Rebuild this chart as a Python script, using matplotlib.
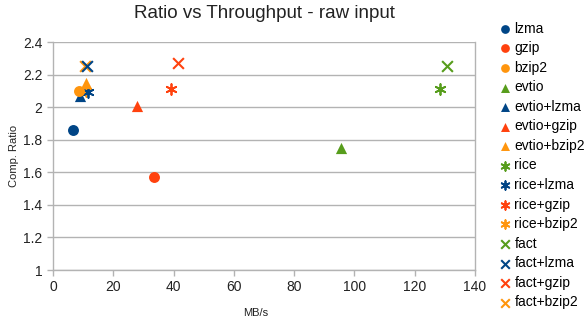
import matplotlib
matplotlib.use("Agg")
import matplotlib.pyplot as plt

plt.rcParams['font.family'] = ['Liberation Sans', 'DejaVu Sans']

names = ["lzma", "gzip", "bzip2", "evtio", "evtio+lzma", "evtio+gzip", "evtio+bzip2",
         "rice", "rice+lzma", "rice+gzip", "rice+bzip2",
         "fact", "fact+lzma", "fact+gzip", "fact+bzip2"]
mbps = [6.6, 33.6, 8.6, 95.6, 8.8, 28.0, 11.0, 128.4, 11.5, 39.3, 11.0, 130.8, 11.4, 41.4, 10.6]
ratio = [1.86, 1.57, 2.10, 1.75, 2.07, 2.01, 2.15, 2.11, 2.09, 2.11, 2.10, 2.25, 2.25, 2.27, 2.25]

blue, red, orange, green = "#004586", "#ff420e", "#ff950e", "#579d1c"
colors = [blue, red, orange, green, blue, red, orange, green, blue, red, orange, green, blue, red, orange]
markers = ["o", "o", "o", "^", "^", "^", "^", "*a", "*a", "*a", "*a", "x", "x", "x", "x"]

fig = plt.figure(figsize=(5.85, 3.25), dpi=100)
ax = fig.add_axes([53/585, 1 - 270/325, (475-53)/585, (270-42)/325])

n = len(names)
handles = []
for i in range(n):
    m = markers[i]
    z = 3 + (n - i) * 0.01
    if m == "o":
        h = ax.scatter(mbps[i], ratio[i], s=62, marker="o", color=colors[i], zorder=z, label=names[i], linewidths=0)
    elif m == "^":
        h = ax.scatter(mbps[i], ratio[i], s=65, marker="^", color=colors[i], zorder=z, label=names[i], linewidths=0)
    elif m == "*a":
        h = ax.scatter(mbps[i], ratio[i], s=60, marker=(6, 2, 0), color=colors[i], zorder=z, label=names[i], linewidths=1.3)
    else:
        h = ax.scatter(mbps[i], ratio[i], s=60, marker="x", color=colors[i], zorder=z, label=names[i], linewidths=1.5)
    handles.append(h)

ax.set_xlim(0, 140)
ax.set_ylim(1, 2.4)
ax.set_xticks(range(0, 141, 20))
ax.set_yticks([1, 1.2, 1.4, 1.6, 1.8, 2, 2.2, 2.4])
ax.set_yticklabels(["1", "1.2", "1.4", "1.6", "1.8", "2", "2.2", "2.4"])
ax.yaxis.grid(True, color="#b3b3b3", linewidth=1)
ax.set_axisbelow(True)
ax.spines["top"].set_visible(False)
for side in ["left", "bottom", "right"]:
    ax.spines[side].set_color("#b3b3b3")
    ax.spines[side].set_linewidth(1)
ax.tick_params(axis="both", colors="#b3b3b3", labelcolor="#222222", labelsize=10, length=4, width=1)
ax.set_xlabel("MB/s", fontsize=8, color="#222222")
ax.set_ylabel("Comp. Ratio", fontsize=8, color="#222222")
ax.xaxis.set_label_coords((256 - 53) / (475 - 53), -(313 - 270) / (270 - 42))
ax.yaxis.set_label_coords(-(53 - 14) / (475 - 53), 0.5)
ax.xaxis.label.set_va("center")
ax.yaxis.label.set_va("center")

fig.text(264/585, 1 - 14/325, "Ratio vs Throughput - raw input", ha="center", va="center", fontsize=13.5, color="#222222")

leg = fig.legend(handles=handles, labels=names, loc="upper left", bbox_to_anchor=(495/585, 1 - 16/325),
                 frameon=False, fontsize=10, handlelength=0.7, handletextpad=0.3, labelspacing=0.4,
                 borderaxespad=0, markerscale=0.8)

fig.savefig("out.png", dpi=100)
